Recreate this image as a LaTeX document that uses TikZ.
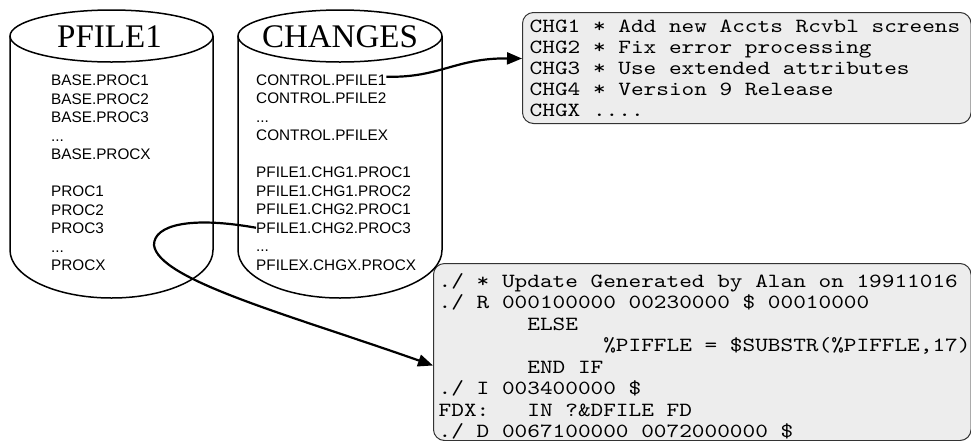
\documentclass[tikz,border=0pt]{standalone}
\usepackage{fontspec}
\setmainfont{Liberation Serif}
\newfontfamily\listfont{Liberation Sans}
\newfontfamily\codefont[FakeStretch=1.2]{lmmono10-regular.otf}
\usetikzlibrary{arrows.meta}
\begin{document}
\begin{tikzpicture}[x=1pt,y=-1pt,
  cyl/.style={line width=1.5pt},
  title/.style={anchor=base,inner sep=0pt,font=\fontsize{33}{36}\selectfont},
  item/.style={anchor=base west,inner sep=0pt,font=\listfont\fontsize{15.3}{18}\selectfont},
  code/.style={anchor=base west,inner sep=0pt,font=\codefont\fontsize{20.1}{22}\selectfont},
  panel/.style={draw=black!80,fill=black!7,line width=1pt,rounded corners=11pt,inner sep=0pt},
  conn/.style={line width=2.2pt,-{Triangle[length=15pt,width=12pt]}}]
\useasboundingbox (0,0) rectangle (971,440);

% panels
\node[panel,anchor=north west,minimum width=448.5pt,minimum height=111pt] (box1) at (522,12) {};
\node[panel,anchor=north west,minimum width=537.5pt,minimum height=177pt] (box2) at (433,263) {};

% cylinder PFILE1
\draw[cyl] (111.5,36) ellipse [x radius=101.5, y radius=26];
\draw[cyl] (10,36) -- (10,250) .. controls (10,276.5) and (55.4,298) .. (111.5,298)
  .. controls (167.6,298) and (213,276.5) .. (213,250) -- (213,36);
% cylinder CHANGES
\draw[cyl] (340,36) ellipse [x radius=102, y radius=26];
\draw[cyl] (238,36) -- (238,250) .. controls (238,276.5) and (283.7,298) .. (340,298)
  .. controls (396.3,298) and (442,276.5) .. (442,250) -- (442,36);

\node[title] (t1) at (109.5,47) {PFILE1};
\node[title] (t2) at (340,47) {CHANGES};

% PFILE1 list
\node[item] (a1) at (51,85.7) {BASE.PROC1};
\node[item] (a2) at (51,104.2) {BASE.PROC2};
\node[item] (a3) at (51,122.7) {BASE.PROC3};
\node[item] (a4) at (51,141.2) {...};
\node[item] (a5) at (51,159.7) {BASE.PROCX};
\node[item] (a6) at (51,196.7) {PROC1};
\node[item] (a7) at (51,215.2) {PROC2};
\node[item] (a8) at (51,233.7) {PROC3};
\node[item] (a9) at (51,252.2) {...};
\node[item] (a10) at (51,270.7) {PROCX};

% CHANGES list
\node[item] (c1) at (256,85) {CONTROL.PFILE1};
\node[item] (c2) at (256,103.5) {CONTROL.PFILE2};
\node[item] (c3) at (256,122) {...};
\node[item] (c4) at (256,140.5) {CONTROL.PFILEX};
\node[item] (c5) at (256,177.5) {PFILE1.CHG1.PROC1};
\node[item] (c6) at (256,196) {PFILE1.CHG1.PROC2};
\node[item] (c7) at (256,214.5) {PFILE1.CHG2.PROC1};
\node[item] (c8) at (256,233) {PFILE1.CHG2.PROC3};
\node[item] (c9) at (256,251.5) {...};
\node[item] (c10) at (256,270) {PFILEX.CHGX.PROCX};

% top panel text
\node[code] (k1) at (529.5,32.5) {CHG1 * Add new Accts Rcvbl screens};
\node[code] (k2) at (529.5,53.55) {CHG2 * Fix error processing};
\node[code] (k3) at (529.5,74.6) {CHG3 * Use extended attributes};
\node[code] (k4) at (529.5,95.65) {CHG4 * Version 9 Release};
\node[code] (k5) at (529.5,116.7) {CHGX ....};

% bottom panel text
\node[code] (u1) at (438.5,287.3) {./ * Update Generated by Alan on 19911016};
\node[code] (u2) at (438.5,308.8) {./ R 000100000 00230000 \$ 00010000};
\node[code] (u3) at (438.5,330.3) {\phantom{0000000}ELSE};
\node[code] (u4) at (438.5,351.8) {\phantom{0000000000000}\%PIFFLE = \$SUBSTR(\%PIFFLE,17)};
\node[code] (u5) at (438.5,373.2) {\phantom{0000000}END IF};
\node[code] (u6) at (438.5,394.7) {./ I 003400000 \$};
\node[code] (u7) at (438.5,416.2) {FDX:\phantom{000}IN ?\&DFILE FD};
\node[code] (u8) at (438.5,437.7) {./ D 0067100000 0072000000 \$};

% connectors
\draw[conn] ([yshift=3pt]c1.east) .. controls (440,78) and (455,58) .. ([yshift=9.5pt]box1.west);
\draw[conn] (c8.west) .. controls (190,216) and (154,225) .. (154,245)
  .. controls (158,280) and (290,315) .. ([yshift=-13.5pt]box2.west);
\end{tikzpicture}
\end{document}
